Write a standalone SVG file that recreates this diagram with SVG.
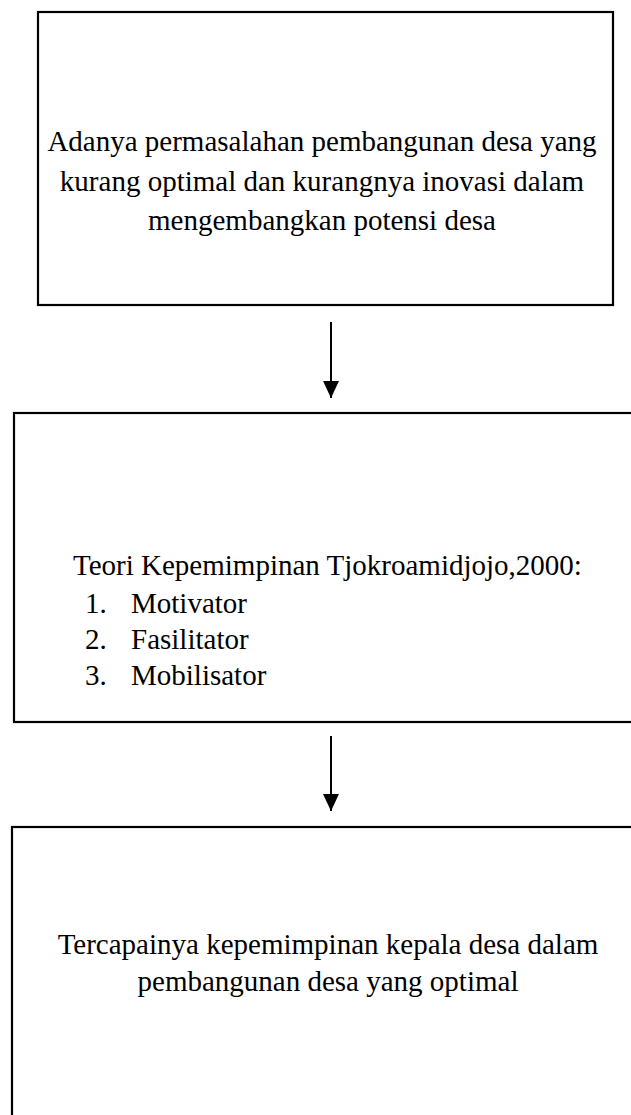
<svg xmlns="http://www.w3.org/2000/svg" width="631" height="1115" viewBox="0 0 631 1115">
  <style>
    .box { fill: #ffffff; stroke: #000000; stroke-width: 2.2; }
    .t { font-family: "Liberation Serif", "Times New Roman", serif; font-size: 29px; fill: #000000; }
    .c { text-anchor: middle; }
    .conn { stroke: #000000; stroke-width: 2; fill: none; }
  </style>
  <defs>
    <marker id="arr" markerUnits="userSpaceOnUse" markerWidth="17" markerHeight="16" viewBox="0 0 17 16" refX="17" refY="8" orient="auto">
      <path d="M0,0 L17,8 L0,16 Z" fill="#000000"/>
    </marker>
  </defs>
  <rect x="0" y="0" width="631" height="1115" fill="#ffffff"/>

  <g id="node-problem">
    <rect class="box" x="38" y="12" width="575" height="293"/>
    <text class="t c" x="322" y="151">Adanya permasalahan pembangunan desa yang</text>
    <text class="t c" x="322" y="191">kurang optimal dan kurangnya inovasi dalam</text>
    <text class="t c" x="322" y="230">mengembangkan potensi desa</text>
  </g>

  <g id="node-theory">
    <rect class="box" x="14" y="413" width="640" height="309"/>
    <text class="t" x="73" y="575">Teori Kepemimpinan Tjokroamidjojo,2000:</text>
    <text class="t" x="85" y="613">1.</text>
    <text class="t" x="131" y="613">Motivator</text>
    <text class="t" x="85" y="649">2.</text>
    <text class="t" x="131" y="649">Fasilitator</text>
    <text class="t" x="85" y="685">3.</text>
    <text class="t" x="131" y="685">Mobilisator</text>
  </g>

  <g id="node-result">
    <rect class="box" x="12" y="827" width="640" height="320"/>
    <text class="t c" x="328" y="954">Tercapainya kepemimpinan kepala desa dalam</text>
    <text class="t c" x="328" y="991">pembangunan desa yang optimal</text>
  </g>

  <g id="connectors">
    <line class="conn" x1="331" y1="322" x2="331" y2="398" marker-end="url(#arr)"/>
    <line class="conn" x1="331" y1="736" x2="331" y2="811" marker-end="url(#arr)"/>
  </g>
</svg>
